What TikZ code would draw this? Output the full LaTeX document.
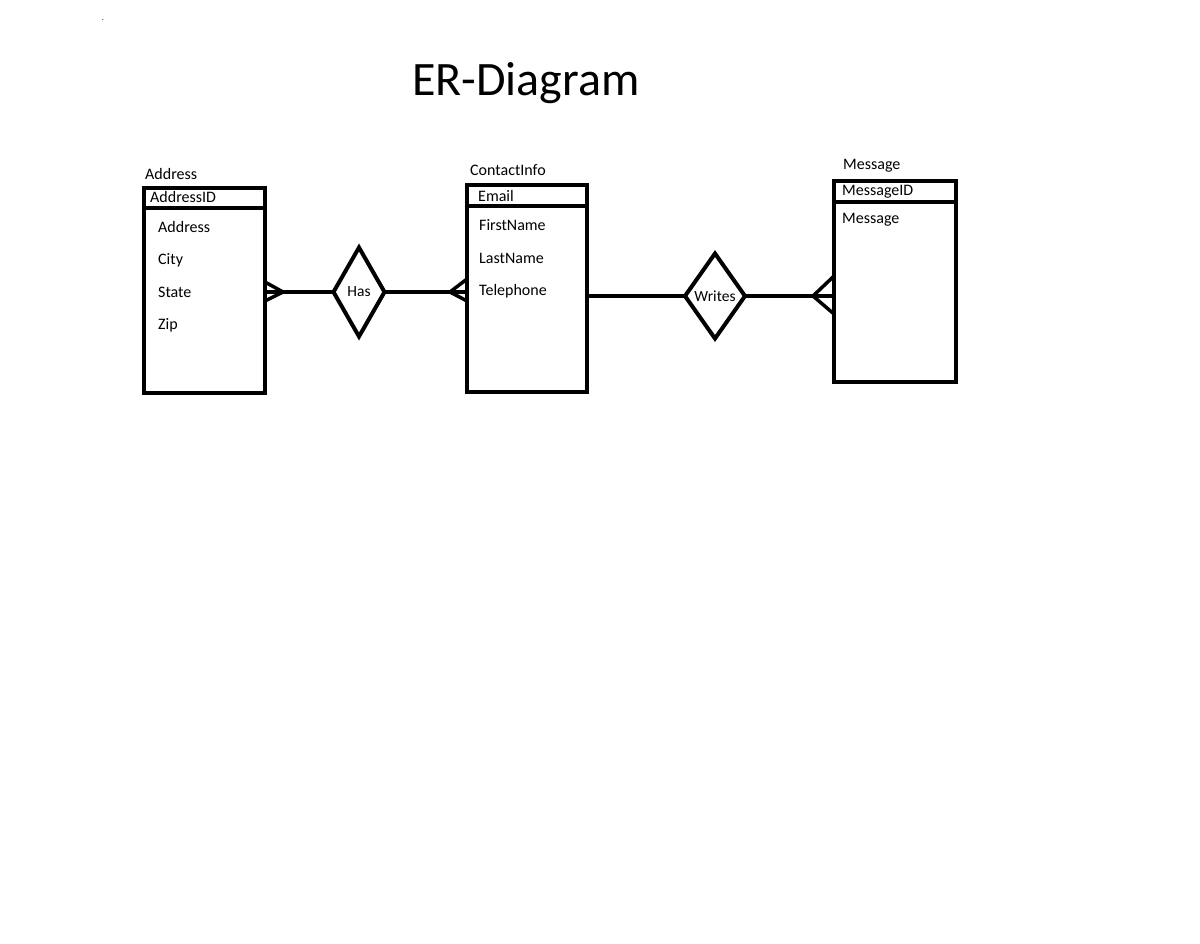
\documentclass[tikz,border=0pt]{standalone}
\usepackage{fontspec}
\setmainfont{Carlito}
\usetikzlibrary{shapes.geometric,calc}
\begin{document}
\begin{tikzpicture}[x=1pt,y=-1pt,
  entity/.style={draw,line width=4pt,rectangle,inner sep=0pt,outer sep=0pt,anchor=north west},
  rel/.style={draw,line width=4pt,diamond,inner sep=0pt,outer sep=0pt,font=\fontsize{15.5}{17}\selectfont},
  txt/.style={anchor=base west,inner sep=0pt,font=\fontsize{16}{18}\selectfont},
  conn/.style={line width=4pt},
  crow/.style={line width=3.5pt}]
\useasboundingbox[fill=white] (0,0) rectangle (1200,943);
\node[inner sep=0pt,font=\fontsize{8}{8}\selectfont] (dot) at (103,20) {.};
\node[anchor=base west,inner sep=0pt,font=\fontsize{48}{52}\selectfont] (title) at (412,95) {ER-Diagram};
% Address
\node[entity,minimum width=121pt,minimum height=205pt] (addr) at (144,188) {};
\draw[line width=4pt] ([yshift=-20pt]addr.north west) -- ([yshift=-20pt]addr.north east);
\node[txt] (addrlbl) at (145,179) {Address};
\node[txt] (addrid) at (150,202) {AddressID};
\node[txt] (a1) at (158,232) {Address};
\node[txt] (a2) at (158,264) {City};
\node[txt] (a3) at (158,297) {State};
\node[txt] (a4) at (158,329) {Zip};
% ContactInfo
\node[entity,minimum width=120pt,minimum height=207pt] (ci) at (467,185) {};
\draw[line width=4pt] ([yshift=-21pt]ci.north west) -- ([yshift=-21pt]ci.north east);
\node[txt] (cilbl) at (470,175) {ContactInfo};
\node[txt] (email) at (478,201) {Email};
\node[txt] (c1) at (479,230) {FirstName};
\node[txt] (c2) at (479,263) {LastName};
\node[txt] (c3) at (479,295) {Telephone};
% Message
\node[entity,minimum width=122pt,minimum height=201pt] (msg) at (834,181) {};
\draw[line width=4pt] ([yshift=-21pt]msg.north west) -- ([yshift=-21pt]msg.north east);
\node[txt] (msglbl) at (843,169) {Message};
\node[txt] (msgid) at (842,195) {MessageID};
\node[txt] (m1) at (842,223) {Message};
% Relationships
\node[rel,minimum width=51pt,minimum height=89pt] (has) at (359,292) {Has};
\node[rel,minimum width=60pt,minimum height=85pt] (writes) at (715,296) {Writes};
% Connectors
\draw[conn] (has.west) -- (has.west -| addr.east);
\draw[conn] (has.east) -- (has.east -| ci.west);
\draw[conn] (writes.west) -- (writes.west -| ci.east);
\draw[conn] (writes.east) -- (writes.east -| msg.west);
% crow's feet
\coordinate (ca) at ($(has.west -| addr.east)+(18,0)$);
\draw[crow] ($(addr.east |- ca)+(0,-10)$) -- (ca) -- ($(addr.east |- ca)+(0,9)$);
\coordinate (cc) at ($(has.east -| ci.west)+(-17,0)$);
\draw[crow] ($(ci.west |- cc)+(0,-13)$) -- (cc) -- ($(ci.west |- cc)+(0,9)$);
\coordinate (cm) at ($(writes.east -| msg.west)+(-21,0)$);
\draw[crow] ($(msg.west |- cm)+(0,-20)$) -- (cm) -- ($(msg.west |- cm)+(0,18)$);
\end{tikzpicture}
\end{document}
